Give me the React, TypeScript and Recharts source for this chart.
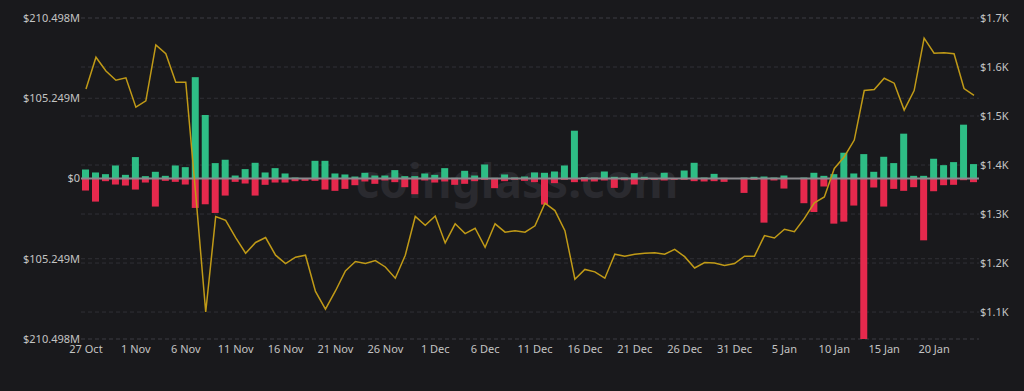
import {
  ComposedChart, Bar, Line, XAxis, YAxis, CartesianGrid, ReferenceLine,
} from 'recharts'

// day labels, 27 Oct -> 24 Jan
const monthSpans: [string, number, number][] = [
  ['Oct', 27, 31],
  ['Nov', 1, 30],
  ['Dec', 1, 31],
  ['Jan', 1, 24],
]
const days: string[] = monthSpans.flatMap(([m, from, to]) =>
  Array.from({ length: to - from + 1 }, (_, i) => `${from + i} ${m}`),
)

// $M
const inflow = [
  11.8, 7.9, 5.7, 17.1, 4.8, 28.1, 3.1, 8.8, 3.5, 17.1, 14.9, 132.9, 83.3, 20.2, 24.6,
  3.9, 12.3, 20.6, 7.9, 13.6, 6.6, 1.3, 0.4, 23.2, 23.2, 6.6, 5.3, 2.6, 7.5, 3.9,
  3.9, 11.0, 3.1, 3.1, 6.6, 4.8, 13.6, 0.9, 10.1, 3.9, 18.4, 0.9, 5.3, 1.3, 2.6,
  7.9, 7.5, 9.2, 17.1, 62.7, 1.8, 1.3, 9.2, 2.2, 1.3, 7.0, 2.2, 0.2, 7.5, 0.4,
  10.5, 20.6, 1.3, 6.1, 0.9, 0.2, 1.3, 2.2, 2.6, 1.3, 3.9, 0.2, 1.3, 7.5, 3.5,
  5.7, 33.8, 6.6, 32.0, 8.8, 28.5, 20.2, 58.8, 3.5, 3.5, 25.9, 17.5, 21.5, 70.6, 18.9,
]

const outflow = [
  -15.8, -30.3, -3.5, -7.9, -9.2, -14.5, -5.3, -36.8, -3.1, -4.4, -7.9, -38.6, -33.8, -45.2, -22.4,
  -4.4, -6.6, -22.4, -8.3, -5.3, -5.3, -3.5, -3.1, -3.1, -14.5, -16.2, -13.6, -8.8, -3.9, -7.0,
  -2.6, -4.8, -11.4, -20.6, -2.6, -5.3, -3.9, -8.3, -7.0, -3.5, -1.8, -12.7, -3.5, -1.8, -3.1,
  -4.8, -34.2, -6.1, -1.8, -4.8, -3.9, -3.9, -2.6, -12.3, -2.2, -7.9, -1.8, -1.8, -2.6, -1.8,
  -1.8, -3.5, -3.9, -3.5, -4.4, -0.4, -18.9, -1.8, -57.9, -2.6, -13.2, -0.4, -32.4, -43.9, -10.5,
  -59.2, -56.6, -35.5, -210.498, -11.8, -36.8, -13.6, -16.2, -11.4, -81.1, -16.7, -8.8, -8.3, -2.2, -4.8,
]

const price = [
  1555, 1620, 1592, 1573, 1578, 1518, 1531, 1645, 1627, 1569, 1569, 1340, 1100, 1295, 1287,
  1252, 1220, 1242, 1252, 1216, 1199, 1212, 1216, 1142, 1106, 1143, 1184, 1203, 1199, 1205,
  1192, 1169, 1216, 1295, 1277, 1296, 1241, 1280, 1260, 1271, 1232, 1280, 1263, 1266, 1263,
  1276, 1322, 1307, 1266, 1167, 1187, 1182, 1169, 1218, 1214, 1218, 1220, 1221, 1218, 1228,
  1213, 1190, 1201, 1200, 1195, 1199, 1214, 1214, 1256, 1251, 1269, 1264, 1291, 1323, 1335,
  1393, 1417, 1451, 1552, 1554, 1577, 1567, 1512, 1552, 1659, 1628, 1629, 1627, 1556, 1542,
]

const flowTicks = [-210.498, -105.249, 0, 105.249, 210.498]
const priceTicks = [1100, 1200, 1300, 1400, 1500, 1600, 1700]

const data = days.map((day, i) => ({
  day,
  inflow: inflow[i],
  outflow: outflow[i],
  price: price[i],
}))

const BG = '#19191c'
const tickStyle = { fill: '#c4c4c4', fontSize: 11, fontFamily: '"Noto Sans", sans-serif' }

const fmtFlow = (v: number) => (v === 0 ? '$0' : `$${Math.abs(v).toFixed(3)}M`)
const fmtPrice = (v: number) => `$${(v / 1000).toFixed(1)}K`

export default function App() {
  return (
    <div style={{ position: 'fixed', left: 0, top: 0, width: 1024, height: 391, background: BG, overflow: 'hidden' }}>
      <div
        style={{
          position: 'absolute', left: 0, top: 150, width: 1034, textAlign: 'center',
          fontFamily: '"Noto Sans", sans-serif', fontWeight: 700, fontSize: 46,
          color: '#2a2a2f', lineHeight: '60px',
        }}
      >
        coinglass.com
      </div>
      <div style={{ position: 'absolute', left: 0, top: 0 }}>
        <ComposedChart
          width={1024}
          height={391}
          data={data}
          stackOffset="sign"
          margin={{ top: 18, right: 0, bottom: 22, left: 0 }}
        >
          <CartesianGrid yAxisId="left" vertical={false} stroke="#303036" strokeDasharray="4 3" />
          <CartesianGrid yAxisId="right" vertical={false} stroke="#303036" strokeDasharray="4 3" />
          <XAxis
            dataKey="day"
            interval={4}
            axisLine={false}
            tickLine={false}
            tickSize={0}
            tickMargin={6}
            height={30}
            tick={tickStyle}
          />
          <YAxis
            yAxisId="left"
            width={81}
            domain={[-210.498, 210.498]}
            ticks={flowTicks}
            allowDataOverflow
            axisLine={false}
            tickLine={false}
            tickSize={0}
            tickMargin={1}
            tickFormatter={fmtFlow}
            tick={tickStyle}
          />
          <YAxis
            yAxisId="right"
            orientation="right"
            width={45}
            domain={[1045, 1700]}
            ticks={priceTicks}
            allowDataOverflow
            axisLine={false}
            tickLine={false}
            tickSize={0}
            tickMargin={1}
            tickFormatter={fmtPrice}
            tick={tickStyle}
          />
          <Bar yAxisId="left" dataKey="inflow" stackId="flow" fill="#2ebd85" barSize={7} isAnimationActive={false} />
          <Bar yAxisId="left" dataKey="outflow" stackId="flow" fill="#e5294d" barSize={7} isAnimationActive={false} />
          <ReferenceLine yAxisId="left" y={0} stroke="#8a8a8e" strokeWidth={2} />
          <Line
            yAxisId="right"
            type="linear"
            dataKey="price"
            stroke="#c09a17"
            strokeWidth={1.5}
            dot={false}
            isAnimationActive={false}
          />
        </ComposedChart>
      </div>
    </div>
  )
}
